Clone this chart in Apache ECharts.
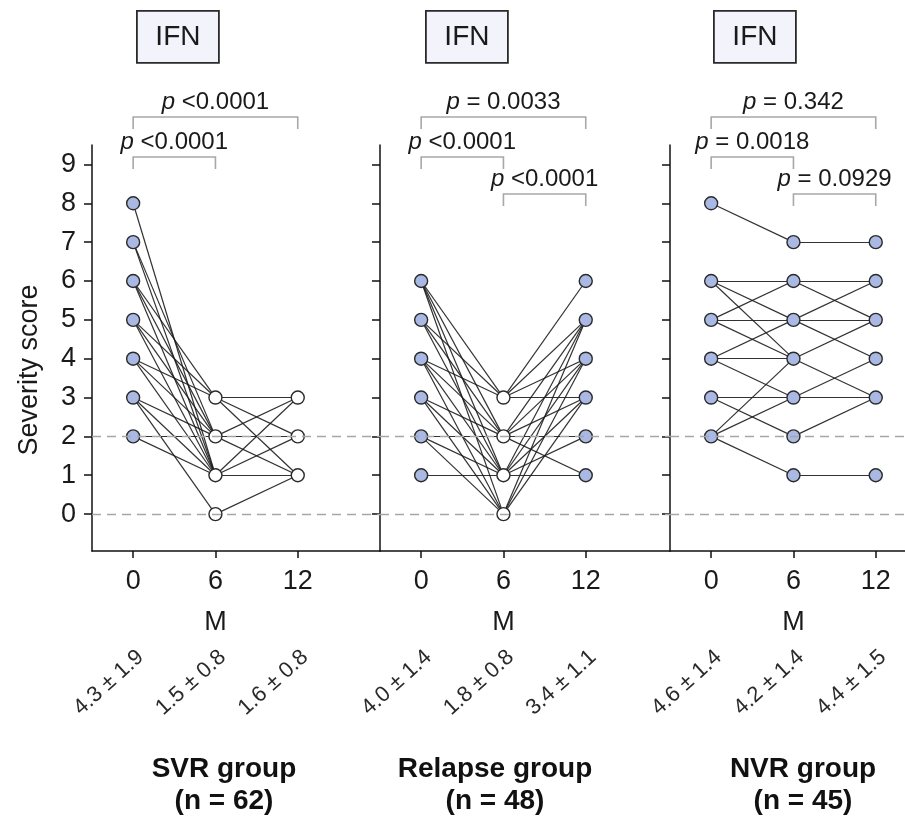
<!DOCTYPE html>
<html>
<head>
    <meta charset="utf-8">
    <title>Severity score by group</title>
    <script src="https://cdn.jsdelivr.net/npm/echarts@6/dist/echarts.min.js"></script>
    <style>
        html, body { margin: 0; padding: 0; background: #fff; }
        #main { width: 905px; height: 819px; }
    </style>
</head>
<body>
    <div id="main"></div>
    <script>
        var chart = echarts.init(document.getElementById('main'));

        // x axis: visit months (index 0, 1, 2) and unit
        const months = ['0', '6', '12'];
        const monthUnit = 'M';
        const yTicks = [0, 1, 2, 3, 4, 5, 6, 7, 8, 9];
        const yTitle = 'Severity score';
        const refLines = [0, 2];
        const treatment = 'IFN';

        const groupNames = ['SVR group', 'Relapse group', 'NVR group'];
        const groupN = ['(n = 62)', '(n = 48)', '(n = 45)'];
        const meanSd = [
            ['4.3 ± 1.9', '1.5 ± 0.8', '1.6 ± 0.8'],
            ['4.0 ± 1.4', '1.8 ± 0.8', '3.4 ± 1.1'],
            ['4.6 ± 1.4', '4.2 ± 1.4', '4.4 ± 1.5']
        ];

        // patient connections: [score at earlier visit, score at later visit]
        const svr0to6 = [[8, 1], [7, 1], [7, 2], [6, 3], [6, 2], [6, 1], [5, 3], [5, 2], [5, 1],
            [4, 3], [4, 2], [4, 1], [3, 2], [3, 1], [3, 0], [2, 2], [2, 1]];
        const svr6to12 = [[3, 3], [3, 2], [3, 1], [2, 3], [2, 2], [2, 1], [1, 3], [1, 2], [1, 1], [0, 1]];

        const relapse0to6 = [[6, 3], [6, 2], [6, 1], [6, 0], [5, 3], [5, 2], [5, 1], [4, 3], [4, 2],
            [4, 1], [4, 0], [3, 2], [3, 1], [3, 0], [2, 2], [2, 1], [2, 0], [1, 1]];
        const relapse6to12 = [[3, 6], [3, 5], [3, 4], [3, 3], [2, 5], [2, 4], [2, 3], [2, 2], [2, 1],
            [1, 5], [1, 4], [1, 3], [1, 2], [1, 1], [0, 5], [0, 4], [0, 3]];

        const nvr0to6 = [[8, 7], [6, 6], [6, 5], [6, 4], [5, 6], [5, 5], [5, 4], [4, 5], [4, 4],
            [4, 3], [3, 3], [3, 2], [2, 4], [2, 3], [2, 1]];
        const nvr6to12 = [[7, 7], [6, 6], [6, 5], [5, 6], [5, 5], [5, 4], [4, 5], [4, 3], [3, 4],
            [3, 3], [2, 3], [1, 1]];

        // which visits are drawn as open (white) circles
        const openVisits = [[1, 2], [1], []];

        // p values: [from visit, to visit, tier, text]
        const svrP = [[0, 2, 0, '<0.0001'], [0, 1, 1, '<0.0001']];
        const relapseP = [[0, 2, 0, '= 0.0033'], [0, 1, 1, '<0.0001'], [1, 2, 2, '<0.0001']];
        const nvrP = [[0, 2, 0, '= 0.342'], [0, 1, 1, '= 0.0018'], [1, 2, 2, '= 0.0929']];

        const edges = [[svr0to6, svr6to12], [relapse0to6, relapse6to12], [nvr0to6, nvr6to12]];
        const pValues = [svrP, relapseP, nvrP];

        // layout
        const FONT = '"Liberation Sans", Arial, sans-serif';
        const panelLeft = [92, 380, 670];
        const panelWidth = [288, 290, 235];
        const xMin = -0.5;
        const unit = 82.3;
        const gridTop = 145, gridBottom = 551;
        const yMin = -0.95, yMax = 9.5;
        const tierLevel = [10.22, 9.19, 8.24];
        const groupLabelX = [224, 495, 803];
        const boxX = [136, 425, 713];

        const grids = [], xAxes = [], yAxes = [], series = [], graphics = [];

        for (let g = 0; g < 3; g++) {
            grids.push({
                left: panelLeft[g], top: gridTop, width: panelWidth[g],
                height: gridBottom - gridTop, containLabel: false
            });
            const xMax = xMin + panelWidth[g] / unit;
            xAxes.push({
                type: 'value', gridIndex: g, min: xMin, max: xMax,
                splitLine: { show: false },
                axisLine: { show: true, onZero: false, lineStyle: { color: '#111', width: 1.5 } },
                axisTick: { show: true, customValues: [0, 1, 2], length: 7, lineStyle: { color: '#111', width: 1.5 } },
                axisLabel: {
                    customValues: [0, 1, 2], margin: 10, fontSize: 27, lineHeight: 41,
                    color: '#1a1a1a', fontFamily: FONT,
                    formatter: function (v) {
                        const i = Math.round(v);
                        return months[i] + (i === 1 ? '\n' + monthUnit : '');
                    }
                }
            });
            xAxes.push({
                type: 'value', gridIndex: g, min: xMin, max: xMax, position: 'bottom', offset: 95,
                splitLine: { show: false }, axisLine: { show: false }, axisTick: { show: false },
                axisLabel: {
                    customValues: [0, 1, 2], margin: 0, rotate: 42, fontSize: 22,
                    verticalAlign: 'top', align: 'right',
                    color: '#2a2a2a', fontFamily: FONT,
                    formatter: function (v) { return meanSd[g][Math.round(v)]; }
                }
            });
            yAxes.push({
                type: 'value', gridIndex: g, min: yMin, max: yMax,
                splitLine: { show: false },
                axisLine: { show: true, onZero: false, lineStyle: { color: '#111', width: 1.5 } },
                axisTick: { show: true, customValues: yTicks, length: 8, lineStyle: { color: '#111', width: 1.5 } },
                axisLabel: {
                    show: g === 0, customValues: yTicks, margin: 16, fontSize: 27,
                    color: '#1a1a1a', fontFamily: FONT
                }
            });

            // dashed reference lines
            series.push({
                type: 'line', xAxisIndex: 2 * g, yAxisIndex: g, data: [], z: 1, silent: true,
                markLine: {
                    silent: true, symbol: 'none', label: { show: false },
                    lineStyle: { type: [9, 6], color: '#a6a6a6', width: 1.3 },
                    data: refLines.map(v => ({ yAxis: v }))
                }
            });

            // patient lines
            const segs = [];
            edges[g].forEach((list, t) => {
                list.forEach(e => segs.push({ coords: [[t, e[0]], [t + 1, e[1]]] }));
            });
            series.push({
                type: 'lines', coordinateSystem: 'cartesian2d', xAxisIndex: 2 * g, yAxisIndex: g,
                z: 2, silent: true,
                lineStyle: { color: '#1c1c1c', width: 1.2, opacity: 0.9, curveness: 0 },
                data: segs
            });

            // points at each visit
            const seen = {};
            const blue = [], white = [];
            edges[g].forEach((list, t) => {
                list.forEach(e => {
                    [[t, e[0]], [t + 1, e[1]]].forEach(p => {
                        const k = p[0] + ':' + p[1];
                        if (seen[k]) return;
                        seen[k] = true;
                        (openVisits[g].indexOf(p[0]) >= 0 ? white : blue).push(p);
                    });
                });
            });
            [[blue, '#a9b9e3'], [white, '#ffffff']].forEach(function (pair) {
                series.push({
                    type: 'scatter', xAxisIndex: 2 * g, yAxisIndex: g, z: 3, silent: true,
                    symbol: 'circle', symbolSize: 13,
                    itemStyle: { color: pair[1], borderColor: '#2a2a2a', borderWidth: 1.4, opacity: 1 },
                    data: pair[0]
                });
            });

            // p-value brackets
            series.push({
                type: 'custom', xAxisIndex: 2 * g, yAxisIndex: g, z: 4, silent: true, clip: false,
                data: pValues[g].map(p => [p[0], p[1], p[2]]),
                renderItem: function (params, api) {
                    const lvl = tierLevel[api.value(2)];
                    const a = api.coord([api.value(0), lvl]);
                    const b = api.coord([api.value(1), lvl]);
                    const drop = 12;
                    return {
                        type: 'group',
                        children: [{
                            type: 'polyline',
                            shape: { points: [[a[0], a[1] + drop], [a[0], a[1]], [b[0], b[1]], [b[0], b[1] + drop]] },
                            style: { stroke: '#a8a8a8', lineWidth: 1.6, fill: null }
                        }, {
                            type: 'text',
                            style: {
                                text: '{i|p} ' + pValues[g][params.dataIndex][3],
                                x: (a[0] + b[0]) / 2, y: a[1] - 3,
                                align: 'center', verticalAlign: 'bottom',
                                fontSize: 24, fontFamily: FONT, fill: '#1a1a1a',
                                rich: { i: { fontStyle: 'italic', fontSize: 24, fontFamily: FONT } }
                            }
                        }]
                    };
                }
            });

            // treatment box
            graphics.push({
                type: 'group', left: boxX[g], top: 10,
                children: [{
                    type: 'rect', shape: { x: 0, y: 0, width: 82, height: 52 },
                    style: { fill: '#f3f3fb', stroke: '#2a2a2a', lineWidth: 1.8 }
                }, {
                    type: 'text', x: 41, y: 26,
                    style: {
                        text: treatment, align: 'center', verticalAlign: 'middle',
                        fontSize: 28, fontFamily: FONT, fill: '#1a1a1a'
                    }
                }]
            });

            // group label
            graphics.push({
                type: 'text', x: groupLabelX[g], y: 785,
                style: {
                    text: groupNames[g] + '\n' + groupN[g], align: 'center', verticalAlign: 'middle',
                    fontSize: 28, lineHeight: 32, fontWeight: 'bold', fontFamily: FONT, fill: '#111'
                }
            });
        }

        // y axis title
        graphics.push({
            type: 'text', x: 30, y: 370, rotation: Math.PI / 2,
            style: {
                text: yTitle, align: 'center', verticalAlign: 'middle',
                fontSize: 27, fontFamily: FONT, fill: '#1a1a1a'
            }
        });

        chart.setOption({
            animation: false,
            backgroundColor: '#fff',
            grid: grids,
            xAxis: xAxes,
            yAxis: yAxes,
            series: series,
            graphic: graphics
        });

        window.addEventListener('resize', function () {
            chart.resize();
        });
    </script>
</body>
</html>
